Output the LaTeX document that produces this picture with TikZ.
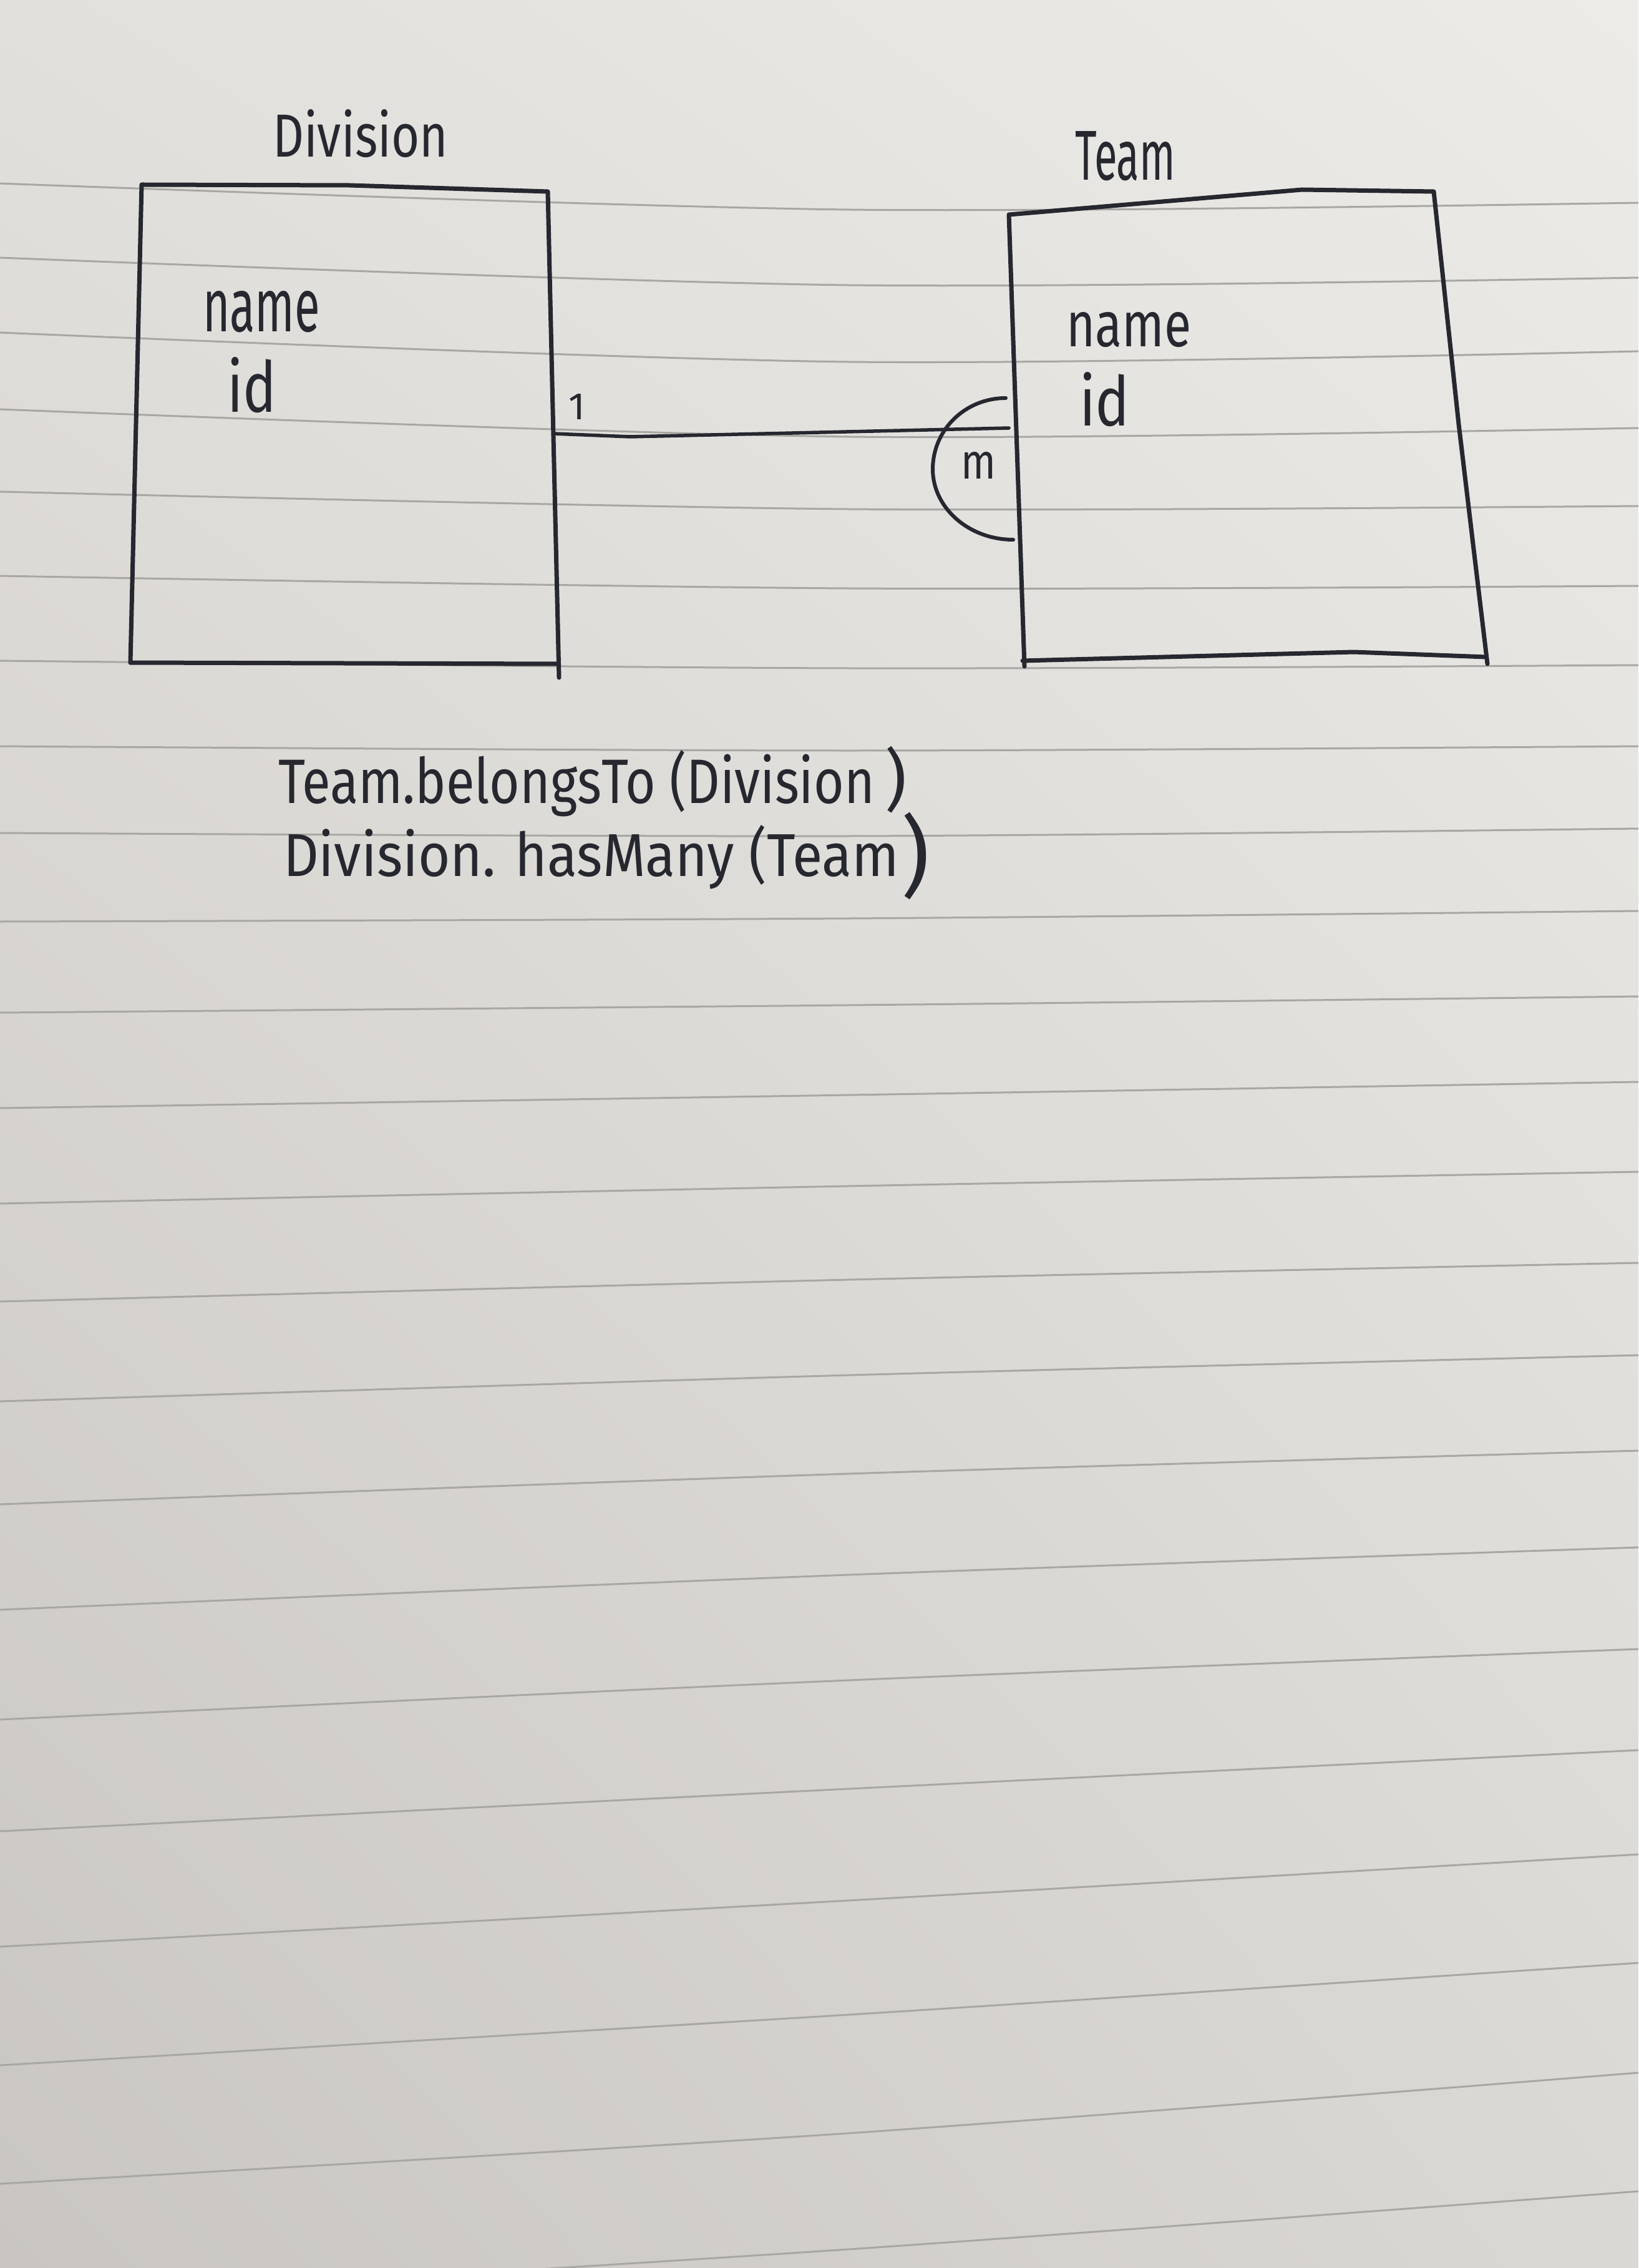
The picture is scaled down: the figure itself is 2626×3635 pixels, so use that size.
\documentclass[tikz,border=0pt]{standalone}
\usepackage{fontspec}
\setmainfont{Fira Sans}
\usepackage{graphicx}
\usetikzlibrary{shadings}
\definecolor{inkc}{HTML}{26272F}
\definecolor{rulec}{HTML}{A9A7A3}
\definecolor{paperUL}{HTML}{E2E0DC}
\definecolor{paperUR}{HTML}{ECEBE8}
\definecolor{paperLL}{HTML}{C9C6C1}
\definecolor{paperLR}{HTML}{DAD8D4}
\begin{document}
\begin{tikzpicture}[x=0.1mm,y=-0.1mm,
  ink/.style={draw=inkc, line width=0.7mm, line cap=round, line join=round},
  rule/.style={draw=rulec, line width=0.3mm},
  hand/.style={inner sep=0pt, outer sep=0pt, text=inkc, anchor=base west},
]
% sheet of paper
\shade[upper left=paperUL, upper right=paperUR, lower left=paperLL, lower right=paperLR]
  (0,0) rectangle (2626,3635);
\useasboundingbox (0,0) rectangle (2626,3635);

% ruled lines of the notebook page (left, middle, right heights)
\foreach \yl/\ym/\yr in {294/336/325, 413/457/445, 533/580/563, 656/700/686,
  788/816/811, 923/943/939, 1059/1071/1066, 1196/1203/1196, 1335/1340/1328,
  1477/1472/1460, 1623/1611/1597, 1776/1755/1734, 1929/1901/1878,
  2086/2051/2024, 2246/2204/2172, 2411/2362/2325, 2580/2524/2480,
  2756/2693/2643, 2935/2867/2805, 3120/3046/2972, 3310/3229/3146,
  3500/3419/3322, 3690/3605/3512}
  \draw[rule] plot[smooth] coordinates {(0,\yl) (1360,\ym) (2626,\yr)};

% Division entity
\coordinate (dTL) at (227,296);
\coordinate (dTR) at (878,307);
\coordinate (dBR) at (894,1064);
\coordinate (dBL) at (209,1062);
\coordinate (dEnd) at (896,1086);
\draw[ink] (dBL) -- (dTL) -- (560,297) -- (dTR) -- (887,700) -- (dEnd);
\draw[ink] (dBL) -- (dBR);

% Team entity
\coordinate (tTL) at (1617,344);
\coordinate (tTR) at (2298,307);
\coordinate (tBR) at (2382,1053);
\coordinate (tBL) at (1639,1059);
\coordinate (tEnd) at (1642,1068);
\draw[ink] (tEnd) -- (tTL) -- (2087,304) -- (tTR) -- (2338,680) -- (2384,1064);
\draw[ink] (tBL) -- (2170,1045) -- (tBR);

% one-to-many relationship line
\coordinate (dEdge) at (887,695);
\coordinate (tEdge) at (1617,686);
\draw[ink, line width=0.55mm] (dEdge) -- (1010,700) -- (tEdge);

% "many" half circle on the Team side
\coordinate (mTop) at (1612,638);
\coordinate (mBot) at (1624,865);
\draw[ink, line width=0.6mm] (mTop) .. controls (1547,638) and (1495,689) .. (1495,752)
  .. controls (1495,814) and (1553,865) .. (mBot);

% titles and attributes
\node[hand] (divTitle) at (437,252) {\resizebox{28.1mm}{7.6mm}{Division}};
\node[hand] (teamTitle) at (1723,289) {\resizebox{16.1mm}{7.8mm}{Team}};
\node[hand] (divName) at (325,532) {\resizebox{18.8mm}{6.5mm}{name}};
\node[hand] (divId) at (364,661) {\resizebox{7.9mm}{8.8mm}{id}};
\node[hand] (teamName) at (1709,556) {\resizebox{20mm}{5.5mm}{name}};
\node[hand] (teamId) at (1730,683) {\resizebox{8.1mm}{8.6mm}{id}};

% cardinalities
\node[hand, anchor=base] (one) at (925,673) {\resizebox{!}{4.1mm}{1}};
\node[hand] (many) at (1540,768) {\resizebox{5.6mm}{4.3mm}{m}};

% relationship notes
\node[hand] (rel1) at (446,1287) {\resizebox{95.6mm}{8.5mm}{Team.belongsTo (Division}};
\node[hand, anchor=north west] (rel1close) at (1418,1196) {\resizebox*{!}{10.7mm}{)}};
\node[hand] (rel2) at (454,1404) {\resizebox{98.7mm}{8.2mm}{Division. hasMany (Team}};
\node[hand, anchor=north west] (rel2close) at (1444,1302) {\resizebox*{!}{14mm}{)}};
\end{tikzpicture}
\end{document}
